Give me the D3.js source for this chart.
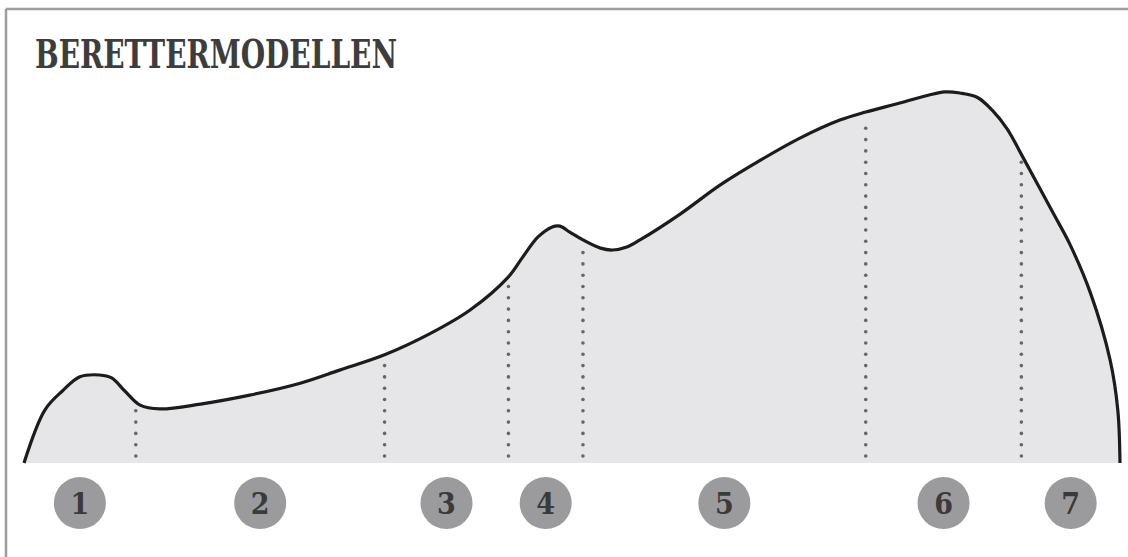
<!DOCTYPE html>
<html>
<head>
<meta charset="utf-8">
<script src="https://cdn.jsdelivr.net/npm/d3@7"></script>
<style>
  html, body { margin: 0; padding: 0; background: #fff; }
  svg { display: block; }
</style>
</head>
<body>
<div id="chart"></div>
<script>
// profile of the curve, x = progress (0-100), y = level (0-100)
const profileX = [0, 1.9, 3.5, 5.1, 6.9, 8.0, 9.2, 10.6, 12.4, 16.1, 20.6, 25.2, 28.8, 32.9, 37.0, 40.7, 44.2, 45.5, 46.9, 48.2, 48.9, 49.8, 51.0, 52.6, 53.7, 55.0, 56.2, 59.9, 63.5, 67.2, 70.8, 74.5, 76.8, 79.9, 82.5, 84.0, 85.4, 87.0, 88.4, 89.7, 91.1, 93.9, 95.4, 97.3, 99.1, 99.8, 100];
const profileY = [0, 14.2, 19.3, 23.1, 23.6, 22.8, 19.3, 15.5, 14.5, 15.8, 18.2, 21.4, 24.9, 29.0, 34.6, 41.0, 49.9, 55.2, 60.6, 63.3, 63.5, 61.9, 59.8, 57.6, 57.1, 57.9, 59.8, 66.8, 74.5, 81.2, 87.1, 92.0, 94.1, 96.5, 98.6, 99.5, 99.2, 98.0, 94.4, 89.6, 82.2, 67.0, 58.8, 45.6, 27.6, 14.2, 0];

// phase boundaries (dotted lines) and phase labels
const boundaries = [0, 10.2, 32.9, 44.2, 51.0, 76.8, 91.0, 100];
const phaseLabels = ["1", "2", "3", "4", "5", "6", "7"];
const title = "BERETTERMODELLEN";

const width = 1128;
const height = 557;

const svg = d3.select("#chart")
  .append("svg")
  .attr("width", width)
  .attr("height", height);

// frame: top and left only
svg.append("line")
  .attr("x1", 6).attr("y1", 9).attr("x2", width).attr("y2", 9)
  .attr("stroke", "#9d9d9d").attr("stroke-width", 2.5);
svg.append("line")
  .attr("x1", 6).attr("y1", 9).attr("x2", 6).attr("y2", height)
  .attr("stroke", "#9d9d9d").attr("stroke-width", 2.5);

svg.append("text")
  .attr("x", 35)
  .attr("y", 68)
  .attr("font-family", "DejaVu Serif Condensed, DejaVu Serif")
  .attr("font-weight", "bold")
  .attr("font-size", 40)
  .attr("textLength", 362)
  .attr("lengthAdjust", "spacingAndGlyphs")
  .attr("fill", "#3d3d3d")
  .text(title);

const x = d3.scaleLinear().domain([0, 100]).range([24, 1120]);
const y = d3.scaleLinear().domain([0, 100]).range([463, 90]);

const pts = profileX.map((d, i) => [d, profileY[i]]);

const area = d3.area()
  .x(d => x(d[0]))
  .y0(y(0))
  .y1(d => y(d[1]))
  .curve(d3.curveCatmullRom.alpha(0.5));

const line = d3.line()
  .x(d => x(d[0]))
  .y(d => y(d[1]))
  .curve(d3.curveCatmullRom.alpha(0.5));

svg.append("path")
  .attr("d", area(pts))
  .attr("fill", "#e6e6e8");

const curve = svg.append("path")
  .attr("d", line(pts))
  .attr("fill", "none")
  .attr("stroke", "#1c1c1c")
  .attr("stroke-width", 3.2)
  .attr("stroke-linejoin", "round");

// find curve height at a given pixel x
const node = curve.node();
const total = node.getTotalLength();
function curveYAt(px) {
  let lo = 0, hi = total;
  for (let k = 0; k < 40; k++) {
    const mid = (lo + hi) / 2;
    if (node.getPointAtLength(mid).x < px) lo = mid; else hi = mid;
  }
  return node.getPointAtLength(lo).y;
}

// dotted separators
const inner = boundaries.slice(1, -1);
inner.forEach(b => {
  const px = x(b);
  const top = curveYAt(px) + 5;
  const dots = [];
  for (let yy = 456; yy >= top; yy -= 11.3) dots.push(yy);
  svg.append("g").selectAll("circle")
    .data(dots)
    .join("circle")
    .attr("cx", px)
    .attr("cy", d => d)
    .attr("r", 1.8)
    .attr("fill", "#666");
});

// phase badges
const badges = svg.append("g")
  .selectAll("g")
  .data(phaseLabels)
  .join("g")
  .attr("transform", (d, i) => `translate(${x((boundaries[i] + boundaries[i + 1]) / 2)},503)`);

badges.append("circle")
  .attr("r", 26)
  .attr("fill", "#9b9b9d");

badges.append("text")
  .attr("text-anchor", "middle")
  .attr("dy", "0.36em")
  .attr("font-family", "DejaVu Serif Condensed, DejaVu Serif")
  .attr("font-weight", "bold")
  .attr("font-size", 30)
  .attr("fill", "#3a3a3a")
  .text(d => d);
</script>
</body>
</html>
